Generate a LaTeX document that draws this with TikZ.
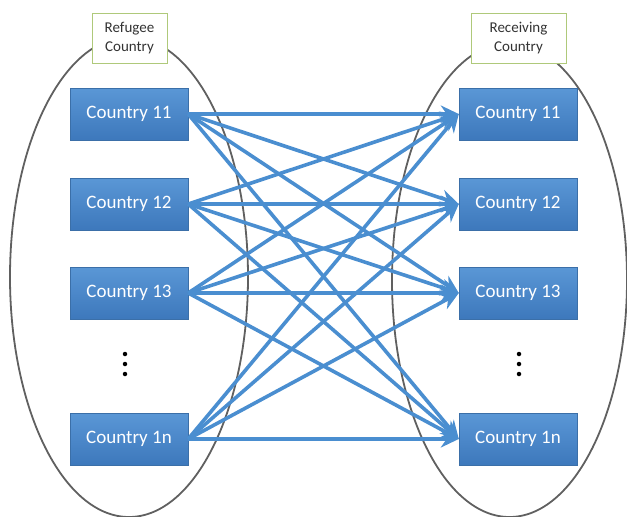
\documentclass[tikz,border=0pt]{standalone}
\usepackage{fontspec}
\setmainfont{Carlito}
\usetikzlibrary{arrows.meta}
\definecolor{boxtop}{HTML}{5A97D6}
\definecolor{boxbot}{HTML}{3D78BC}
\definecolor{boxedge}{HTML}{3B6FA8}
\definecolor{arr}{HTML}{4A8ED0}
\definecolor{ring}{HTML}{606060}
\definecolor{lblgreen}{HTML}{9BBB59}
\tikzset{
  cbox/.style={rectangle, minimum width=118pt, minimum height=52pt, inner sep=0pt,
    top color=boxtop, bottom color=boxbot, draw=boxedge, line width=0.4pt,
    text=white, font=\fontsize{19}{22}\selectfont},
  lbl/.style={rectangle, draw=lblgreen!80, fill=white, line width=0.8pt, minimum width=75pt, minimum height=50pt,
    inner sep=1pt, align=center, text=black!80, font=\fontsize{15}{19}\selectfont},
  ringstyle/.style={draw=ring, line width=1.8pt},
  link/.style={draw=arr, line width=3.6pt, -{Stealth[length=18pt,width=17pt]}, shorten >=0pt},
  vdots/.style={circle, fill=black, inner sep=0pt, minimum size=4.5pt}
}
\begin{document}
\begin{tikzpicture}[x=1pt,y=-1pt]
\useasboundingbox (0,0) rectangle (627,517);
% ellipses
\draw[ringstyle] (129,277) ellipse [x radius=119, y radius=240];
\draw[ringstyle] (509.5,280) ellipse [x radius=117.5, y radius=237];
% labels
\node[lbl] (lblL) at (129.5,38) {Refugee\\Country};
\node[lbl, minimum width=95pt] (lblR) at (518.5,38) {Receiving\\Country};
% left boxes
\node[cbox] (L1) at (129,114) {Country 11};
\node[cbox] (L2) at (129,204) {Country 12};
\node[cbox] (L3) at (129,293) {Country 13};
\node[cbox] (L4) at (129,439) {Country 1n};
% right boxes
\node[cbox] (R1) at (518,114) {Country 11};
\node[cbox] (R2) at (518,204) {Country 12};
\node[cbox] (R3) at (518,293) {Country 13};
\node[cbox] (R4) at (518,439) {Country 1n};
% dots
\node[vdots] (dl1) at (125,354) {};
\node[vdots] (dl2) at (125,364) {};
\node[vdots] (dl3) at (125,374) {};
\node[vdots] (dr1) at (519,354) {};
\node[vdots] (dr2) at (519,364) {};
\node[vdots] (dr3) at (519,374) {};
% links
\foreach \a in {L1,L2,L3,L4}{
  \foreach \b in {R1,R2,R3,R4}{
    \draw[link] (\a.east) -- (\b.west);
  }
}
\end{tikzpicture}
\end{document}
